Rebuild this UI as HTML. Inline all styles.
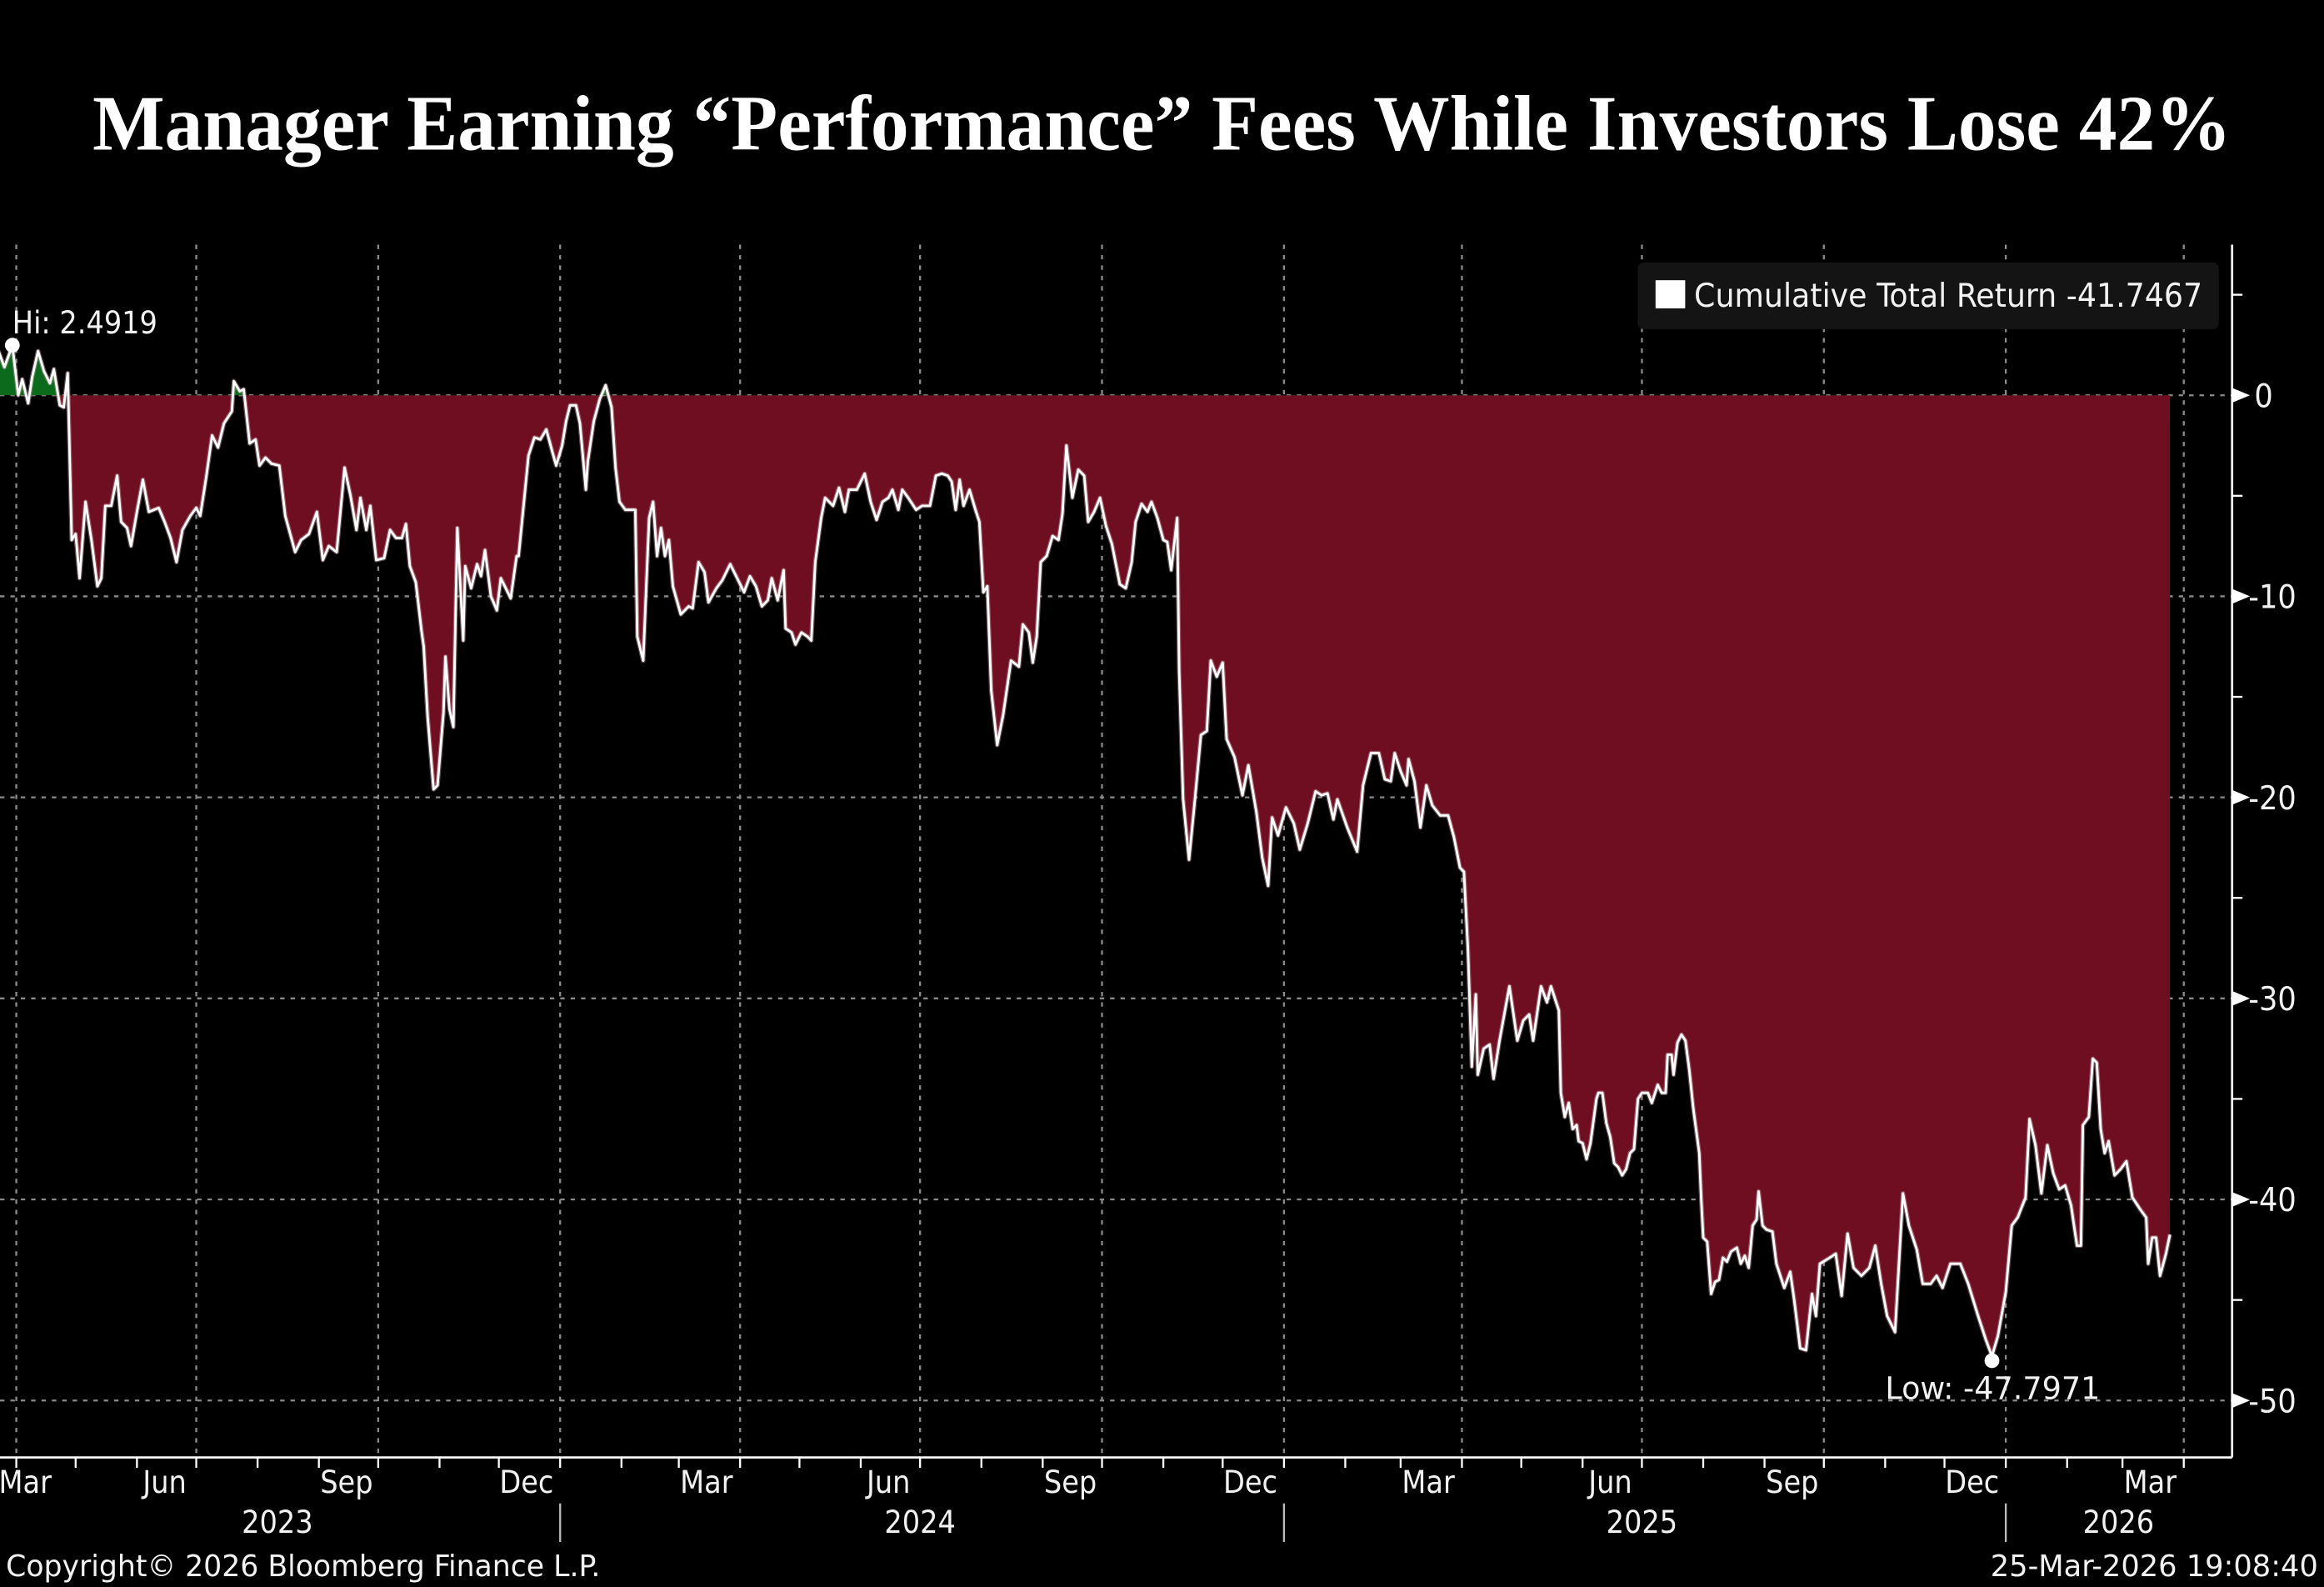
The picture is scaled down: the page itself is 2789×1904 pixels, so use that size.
<!DOCTYPE html>
<html><head><meta charset="utf-8"><title>Cumulative Total Return</title>
<style>
html,body{margin:0;padding:0;background:#000;width:2789px;height:1904px;overflow:hidden}
svg{display:block}
text{font-family:"DejaVu Sans Condensed","Liberation Sans Narrow","Liberation Sans",sans-serif;fill:#f2f2f2}
</style></head>
<body>
<svg id="chart" xmlns="http://www.w3.org/2000/svg" width="2789" height="1904" viewBox="0 0 1568 1070.4" preserveAspectRatio="none">
<rect x="0" y="0" width="1568" height="1070.4" fill="#000"/>
<text x="784" y="101" text-anchor="middle" textLength="1443" lengthAdjust="spacingAndGlyphs" style="font-family:'Liberation Serif',serif;font-weight:bold;font-size:53px;fill:#fff">Manager Earning “Performance” Fees While Investors Lose 42%</text>
<g id="grid"></g>
<defs>
<clipPath id="clipBelow"><rect id="cbr" x="0" y="0" width="1506" height="1"/></clipPath>
<clipPath id="clipAbove"><rect id="car" x="0" y="0" width="1506" height="1"/></clipPath>
</defs>
<g id="series"></g>
<g id="axes"></g>
<g>
<rect x="1105" y="177" width="392" height="45" rx="4" fill="#141414"/>
<rect x="1117" y="189" width="20" height="19" fill="#fff"/>
<text x="1143" y="207" font-size="22" textLength="343" lengthAdjust="spacingAndGlyphs">Cumulative Total Return  -41.7467</text>
</g>
<text x="4" y="1063" font-size="20" textLength="401" lengthAdjust="spacingAndGlyphs">Copyright© 2026 Bloomberg Finance L.P.</text>
<text x="1564" y="1063" font-size="20" text-anchor="end" textLength="221" lengthAdjust="spacingAndGlyphs">25-Mar-2026 19:08:40</text>
</svg>
<script>
// days since 2023-03-23
const days = [0,3,7,10,12,15,17,20,23,26,28,31,33,35,37,39,41,44,47,50,52,54,57,60,62,65,67,70,73,76,81,84,87,90,93,97,100,102,105,108,111,114,118,119,122,124,127,130,132,135,138,142,145,150,153,157,161,164,167,171,175,178,181,183,186,188,191,195,198,201,204,206,208,211,214,215,217,220,222,225,226,228,230,232,235,236,239,242,244,246,249,252,254,259,262,263,265,268,271,274,277,280,282,285,287,289,292,294,297,
298,301,304,307,310,312,314,317,322,323,326,329,331,333,335,337,339,341,345,349,351,354,357,359,363,366,370,374,377,380,383,386,389,391,394,397,398,401,403,406,409,411,413,416,418,422,425,428,430,434,438,441,444,447,450,452,455,457,460,464,467,471,474,477,480,482,484,486,488,491,494,496,498,500,502,505,508,512,516,518,521,523,525,527,530,533,536,538,540,543,546,549,551,554,557,560,563,567,570,573,575,578,581,583,586,589,591,593,596,
597,599,602,605,608,611,613,616,619,621,625,629,632,636,639,642,644,647,651,655,658,662,666,669,672,675,677,682,687,690,694,698,701,704,706,709,712,713,716,719,722,725,729,733,736,739,741,743,745,747,748,751,754,756,759,764,768,771,774,776,780,783,785,789,
790,792,794,796,798,799,801,803,805,808,809,811,813,815,817,819,821,823,825,827,829,831,834,836,839,841,843,844,846,847,849,851,853,855,857,860,861,862,864,866,868,870,872,874,876,879,881,883,885,887,889,890,892,894,897,899,
903,906,908,911,914,917,919,921,926,929,932,935,938,942,946,949,952,955,959,963,966,970,973,977,980,983,987,992,996,1001,1005,1008,1011,1015,1018,1021,1025,1027,1030,1033,1036,1039,1042,1045,1048,1051,1053,1054,1057,1059,1061,1063,1065,1067,1070,1073,1076,1079,1083,1086,1087,1089,1091,1093,1096,1098];
const returns = [2.2,1.4,2.49,0,0.8,-0.4,0.9,2.2,1.2,0.6,1.3,-0.5,-0.6,1.1,-7.2,-6.9,-9.1,-5.3,-7.2,-9.5,-9.1,-5.5,-5.5,-4.0,-6.3,-6.6,-7.5,-5.8,-4.2,-5.8,-5.6,-6.3,-7.1,-8.3,-6.7,-6.0,-5.6,-6.0,-4.1,-2.0,-2.6,-1.4,-0.8,0.7,0.2,0.3,-2.4,-2.2,-3.5,-3.1,-3.4,-3.5,-6.0,-7.8,-7.2,-6.9,-5.8,-8.2,-7.5,-7.8,-3.6,-5.0,-6.7,-5.1,-6.7,-5.5,-8.2,-8.1,-6.7,-7.1,-7.1,-6.4,-8.5,-9.3,-11.8,-12.5,-16.0,-19.6,-19.4,-15.8,-13.0,-15.6,-16.5,-6.6,-12.2,-8.5,-9.6,-8.4,-9.0,-7.7,-10.0,-10.7,-9.1,-10.1,-8.0,-8.0,-6.0,-3.0,-2.1,-2.2,-1.7,-2.8,-3.5,-2.5,-1.3,-0.5,-0.5,-1.4,-4.7,
-3.3,-1.3,-0.2,0.5,-0.6,-3.6,-5.3,-5.7,-5.7,-12.0,-13.2,-6.1,-5.3,-8.0,-6.6,-8.0,-7.2,-9.5,-10.9,-10.5,-10.6,-8.3,-8.8,-10.3,-9.6,-9.2,-8.4,-9.2,-9.8,-9.0,-9.5,-10.5,-10.2,-9.1,-10.2,-8.7,-11.6,-11.8,-12.4,-11.8,-12.0,-12.2,-8.3,-6.1,-5.1,-5.5,-4.6,-5.8,-4.7,-4.7,-3.9,-5.3,-6.2,-5.3,-5.1,-4.7,-5.7,-4.7,-5.1,-5.7,-5.5,-5.5,-4.0,-3.9,-4.0,-4.3,-5.7,-4.2,-5.5,-4.7,-5.7,-6.3,-9.8,-9.5,-14.7,-17.4,-15.9,-13.2,-13.5,-11.4,-11.8,-13.3,-12.0,-8.3,-8.0,-7.0,-7.2,-5.9,-2.5,-5.1,-3.7,-4.0,-6.3,-5.8,-5.1,-6.5,-7.4,-9.4,-9.6,-8.3,-6.3,-5.4,-5.8,-5.3,-6.1,-7.2,-7.3,-8.7,-6.1,
-13.7,-20.1,-23.1,-20.1,-16.9,-16.7,-13.2,-14.0,-13.3,-17.1,-18.0,-19.9,-18.4,-20.7,-23.0,-24.4,-21.0,-21.9,-20.5,-21.3,-22.6,-21.3,-19.7,-19.9,-19.8,-21.1,-20.1,-21.5,-22.7,-19.4,-17.8,-17.8,-19.1,-19.2,-17.8,-18.7,-19.4,-18.1,-19.2,-21.5,-19.4,-20.4,-20.9,-20.9,-22.0,-23.5,-23.7,-27.5,-33.4,-29.8,-33.8,-32.5,-32.3,-34.0,-32.1,-29.4,-32.1,-31.1,-30.8,-32.1,-29.4,-30.2,-29.4,-30.6,
-34.7,-35.9,-35.2,-36.5,-36.3,-37.1,-37.2,-38.0,-37.2,-35.0,-34.7,-34.7,-36.2,-36.9,-38.2,-38.4,-38.8,-38.5,-37.7,-37.5,-35.0,-34.7,-34.7,-35.2,-34.3,-34.7,-34.7,-32.8,-32.8,-33.8,-32.2,-31.8,-32.1,-33.6,-35.5,-37.7,-40.0,-41.9,-42.1,-44.7,-44.1,-44.0,-42.9,-43.1,-42.6,-42.4,-43.2,-42.8,-43.4,-41.3,-41.0,-39.6,-41.3,-41.5,-41.6,-43.2,
-44.4,-43.6,-45.0,-47.4,-47.5,-44.7,-45.8,-43.2,-42.9,-42.7,-44.8,-41.7,-43.4,-43.8,-43.4,-42.3,-44.2,-45.8,-46.6,-39.7,-41.3,-42.5,-44.2,-44.2,-43.8,-44.4,-43.2,-43.2,-44.2,-45.8,-47.0,-47.7971,-46.8,-44.6,-41.3,-40.9,-39.9,-36.0,-37.3,-39.7,-37.3,-38.7,-39.5,-39.3,-40.3,-42.3,-42.3,-36.3,-35.9,-33.0,-33.2,-36.5,-37.7,-37.1,-38.8,-38.5,-38.1,-39.9,-40.5,-40.9,-43.2,-41.9,-41.9,-43.8,-42.7,-41.7467];
const yTicks = [0,-10,-20,-30,-40,-50];
const yTickLabels = ["0","-10","-20","-30","-40","-50"];
const yMinorTicks = [5,-5,-15,-25,-35,-45];
const monthLabels = ["Mar","Jun","Sep","Dec","Mar","Jun","Sep","Dec","Mar","Jun","Sep","Dec","Mar"];
const monthLabelDates = ["2023-03-16","2023-06-15","2023-09-15","2023-12-15","2024-03-15","2024-06-15","2024-09-15","2024-12-15","2025-03-15","2025-06-15","2025-09-15","2025-12-15","2026-03-15"];
const yearLabels = ["2023","2024","2025","2026"];
const yearLabelDates = ["2023-08-11","2024-07-01","2025-07-01","2026-02-27"];
const hiLabel = "Hi: 2.4919";
const lowLabel = "Low: -47.7971";

const NS = "http://www.w3.org/2000/svg";
const START = Date.UTC(2023,2,23);
const PLOT = {left:0, right:1506, top:165, bottom:983};
const PX_PER_DAY = 1.3343, X_APR1 = 11, DAY_APR1 = 9;
function xOfDay(d){ return X_APR1 + (d - DAY_APR1) * PX_PER_DAY; }
function dayOfDate(s){ const p=s.split('-').map(Number); return (Date.UTC(p[0],p[1]-1,p[2]) - START)/86400000; }
function xOfDate(s){ return xOfDay(dayOfDate(s)); }
const Y0 = 266.6, PX_PER_UNIT = 13.56;
function yOf(v){ return Y0 - v * PX_PER_UNIT; }
function mk(tag, attrs, parent){ const e=document.createElementNS(NS,tag); for(const k in attrs) e.setAttribute(k,attrs[k]); parent.appendChild(e); return e; }

const grid = document.getElementById('grid');
const axes = document.getElementById('axes');
const series = document.getElementById('series');

yTicks.forEach(v=>{
  const l = mk('line',{x1:0,x2:PLOT.right,y1:yOf(v),y2:yOf(v),stroke:'#8a8a8a','stroke-width':1.3,'stroke-dasharray':'3 4'},grid);
  
  
});
const qDates=[], mDates=[];
for(let y=2023;y<=2026;y++){ for(let m=1;m<=12;m++){ const s=y+'-'+String(m).padStart(2,'0')+'-01'; const d=dayOfDate(s); if(d<0||xOfDay(d)>PLOT.right) continue; mDates.push(s); if((m-1)%3===0) qDates.push(s);} }
qDates.forEach(s=>{
  const x=xOfDate(s);
  const l=mk('line',{x1:x,x2:x,y1:PLOT.top,y2:PLOT.bottom,stroke:'#8a8a8a','stroke-width':1.3,'stroke-dasharray':'3 4'},grid);
  
  
});

const pts = days.map((d,i)=>[xOfDay(d), yOf(returns[i])]);
const xFirst = pts[0][0], xLast = pts[pts.length-1][0];
let dArea = 'M'+xFirst.toFixed(2)+','+Y0+' ' + pts.map(p=>'L'+p[0].toFixed(2)+','+p[1].toFixed(2)).join(' ') + ' L'+xLast.toFixed(2)+','+Y0+' Z';
const cb=document.getElementById('cbr'); cb.setAttribute('y',Y0); cb.setAttribute('height',PLOT.bottom-Y0);
const ca=document.getElementById('car'); ca.setAttribute('y',0); ca.setAttribute('height',Y0);
const red = mk('path',{d:dArea,fill:'#6f0e20','clip-path':'url(#clipBelow)'},series);


const green = mk('path',{d:dArea,fill:'#0b6a1c','clip-path':'url(#clipAbove)'},series);


const dLine = pts.map((p,i)=>(i?'L':'M')+p[0].toFixed(2)+','+p[1].toFixed(2)).join(' ');
const glow = mk('path',{d:dLine,fill:'none',stroke:'#c9a0a6','stroke-width':3,'stroke-opacity':0.5,'stroke-linejoin':'round'},series);


const line = mk('path',{d:dLine,fill:'none',stroke:'#ffffff','stroke-width':1.6,'stroke-linejoin':'round'},series);



let hiI=0, loI=0;
returns.forEach((v,i)=>{ if(v>returns[hiI]) hiI=i; if(v<returns[loI]) loI=i; });
const hiDot = mk('circle',{cx:pts[hiI][0],cy:pts[hiI][1],r:5,fill:'#fff'},series);


const hiT = mk('text',{x:pts[hiI][0],y:pts[hiI][1]-8,'font-size':21},series); hiT.textContent=hiLabel;


const loDot = mk('circle',{cx:pts[loI][0],cy:pts[loI][1]+3,r:5,fill:'#fff'},series);


const loT = mk('text',{x:pts[loI][0]-72,y:pts[loI][1]+29,'font-size':21,textLength:145,lengthAdjust:'spacingAndGlyphs'},series); loT.textContent=lowLabel;



const ra = mk('line',{x1:PLOT.right,x2:PLOT.right,y1:PLOT.top,y2:PLOT.bottom,stroke:'#fff','stroke-width':1.5},axes);


const ba = mk('line',{x1:0,x2:PLOT.right,y1:PLOT.bottom,y2:PLOT.bottom,stroke:'#fff','stroke-width':1.5},axes);


yTicks.forEach((v,i)=>{
  const y=yOf(v);
  const a=mk('polygon',{points:(PLOT.right)+','+(y-5)+' '+(PLOT.right+12)+','+y+' '+(PLOT.right)+','+(y+5),fill:'#fff'},axes);
  
  
  const t=mk('text',{x:PLOT.right+(v===0?15:11),y:y+8,'font-size':22},axes); t.textContent=yTickLabels[i];
  
  
});
yMinorTicks.forEach(v=>{
  const y=yOf(v);
  const m=mk('line',{x1:PLOT.right,x2:PLOT.right+7,y1:y,y2:y,stroke:'#fff','stroke-width':1.3},axes);
  
  
});
mDates.forEach(s=>{
  const x=xOfDate(s);
  const t=mk('line',{x1:x,x2:x,y1:PLOT.bottom,y2:PLOT.bottom+7,stroke:'#fff','stroke-width':1.3},axes);
  
  
});
monthLabels.forEach((m,i)=>{
  const x=Math.max(17,xOfDate(monthLabelDates[i]));
  const t=mk('text',{x:x,y:1007,'font-size':21,'text-anchor':'middle'},axes); t.textContent=m;
  
  
});
yearLabels.forEach((y,i)=>{
  const t=mk('text',{x:xOfDate(yearLabelDates[i]),y:1034,'font-size':21,'text-anchor':'middle'},axes); t.textContent=y;
  
  
  if(i>0){
    const x=xOfDate(y+'-01-01');
    const s=mk('line',{x1:x,x2:x,y1:1014,y2:1040,stroke:'#bbb','stroke-width':1.3},axes);
    
    
  }
});
</script>
</body></html>
